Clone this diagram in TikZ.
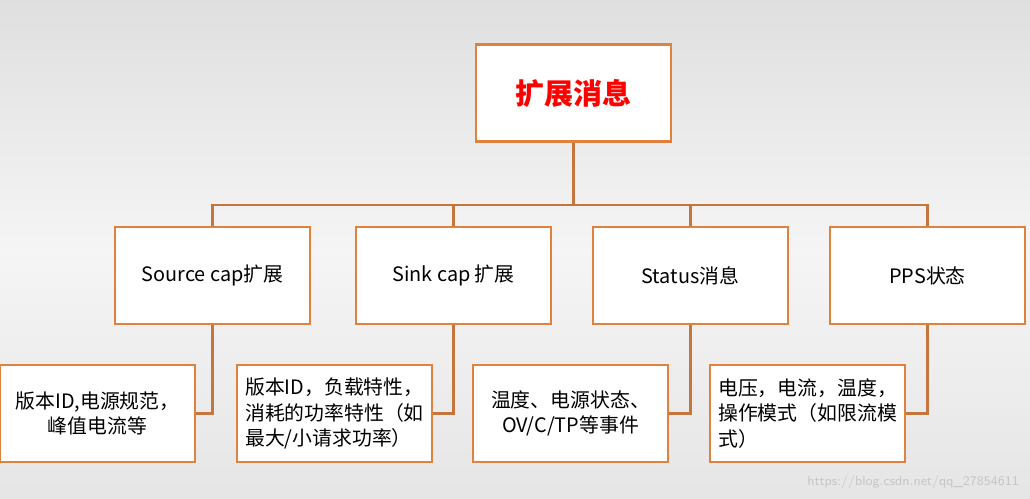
\documentclass[tikz,border=0pt]{standalone}
\usepackage{fontspec}
\newfontfamily\cjk{Noto Sans CJK SC}
\begin{document}
\begin{tikzpicture}[x=0.02cm,y=-0.02cm,
  box/.style={draw=boxc,line width=1.6pt,fill=white,minimum width=3.9cm,minimum height=1.94cm,inner sep=1pt,font=\cjk\fontsize{11.3}{14.5}\selectfont},
  conn/.style={draw=linec,line width=1.6pt}]
\definecolor{boxc}{RGB}{222,130,62}
\definecolor{linec}{RGB}{196,118,60}
\useasboundingbox (0,0) rectangle (1030,499);
\shade[top color=gray!25,bottom color=gray!8] (0,0) rectangle (1030,250);
\shade[top color=gray!8,bottom color=gray!20] (0,250) rectangle (1030,499);
\node[box] (top) at (573.5,93) {\textcolor{red}{\fontsize{16.5}{20}\selectfont\bfseries 扩展消息}};
\node[box] (s1) at (212.5,275.5) {Source cap扩展};
\node[box] (s2) at (453.5,275.5) {Sink cap 扩展};
\node[box] (s3) at (690.5,275.5) {Status消息};
\node[box] (s4) at (927.5,275.5) {PPS状态};
\node[box,align=center] (a) at (97.5,413.5) {版本ID,电源规范，\\峰值电流等};
\node[box,align=left] (b) at (334.5,413.5) {版本ID，负载特性，\\消耗的功率特性（如\\最大/小请求功率）};
\node[box,align=center] (c) at (570.5,413.5) {温度、电源状态、\\OV/C/TP等事件};
\node[box,align=left] (d) at (807.5,413.5) {电压，电流，温度，\\操作模式（如限流模\\式）};
\coordinate (bus) at (573.5,205);
\draw[conn] (top.south) -- (bus);
\foreach \n in {s1,s2,s3,s4}{\draw[conn] (bus) -| (\n.north);}
\draw[conn] (s1.south) |- (a.east);
\draw[conn] (s2.south) |- (b.east);
\draw[conn] (s3.south) |- (c.east);
\draw[conn] (s4.south) |- (d.east);
\node[text=gray!45,font=\sffamily\fontsize{7.5}{9}\selectfont,anchor=east] (wm) at (1025,482) {https://blog.csdn.net/qq\_27854611};
\end{tikzpicture}
\end{document}
